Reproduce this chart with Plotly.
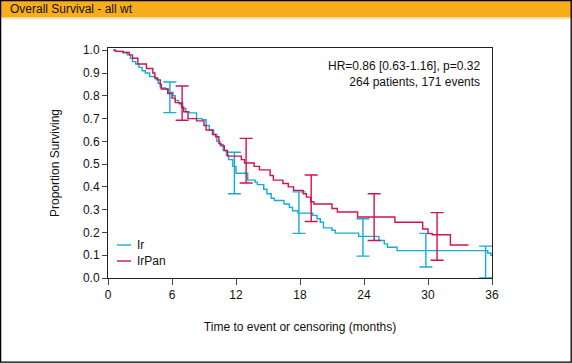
import plotly.graph_objects as go

# ---- data ----
ir_t = [0.5, 0.7, 1.4, 1.8, 2.1, 2.3, 2.6, 2.9, 3.2, 3.5, 3.9, 4.4, 4.7, 4.9, 5.4, 5.7, 6.1, 6.3,
        6.6, 7.0, 7.3, 7.6, 8.3, 8.8, 9.2, 9.5, 9.9, 10.2, 10.5, 10.8, 11.1, 11.3, 11.7, 12.0,
        13.1, 13.8, 14.0, 14.6, 14.9, 15.3, 15.6, 16.5, 17.0, 17.3, 17.8, 19.2, 19.6, 19.9,
        20.2, 21.0, 21.3, 23.5, 25.4, 25.9, 26.2, 27.1, 35.6, 35.9, 36.0]
ir_s = [1.0, 0.995, 0.99, 0.98, 0.965, 0.95, 0.94, 0.925, 0.91, 0.90, 0.885, 0.875, 0.855, 0.835,
        0.83, 0.815, 0.80, 0.78, 0.77, 0.745, 0.73, 0.725, 0.70, 0.695, 0.67, 0.65, 0.63, 0.60,
        0.585, 0.56, 0.54, 0.52, 0.49, 0.46, 0.43, 0.42, 0.41, 0.39, 0.37, 0.35, 0.34, 0.325,
        0.31, 0.295, 0.285, 0.275, 0.26, 0.245, 0.22, 0.21, 0.197, 0.183, 0.165, 0.15, 0.135,
        0.12, 0.11, 0.10, 0.10]

irpan_t = [0.5, 0.7, 1.4, 2.0, 2.3, 2.8, 3.6, 4.2, 4.4, 4.6, 4.9, 5.0, 5.6, 6.0, 6.3, 6.7, 6.9,
           7.1, 7.5, 8.3, 9.0, 9.2, 9.8, 10.1, 10.4, 10.6, 10.9, 11.2, 12.5, 12.8, 13.7, 14.2,
           15.2, 15.5, 16.4, 16.9, 17.4, 18.3, 18.6, 19.0, 19.3, 21.0, 21.5, 23.4, 26.9, 29.5,
           30.0, 30.4, 32.1, 33.8]
irpan_s = [1.0, 0.995, 0.99, 0.98, 0.965, 0.94, 0.92, 0.90, 0.88, 0.87, 0.85, 0.83, 0.81, 0.79,
           0.77, 0.765, 0.75, 0.73, 0.70, 0.69, 0.67, 0.65, 0.63, 0.62, 0.59, 0.58, 0.56, 0.535,
           0.52, 0.505, 0.49, 0.475, 0.45, 0.43, 0.415, 0.40, 0.385, 0.37, 0.355, 0.335, 0.325,
           0.305, 0.29, 0.268, 0.245, 0.215, 0.195, 0.19, 0.145, 0.145]

ir_ci_t = [5.8, 11.85, 17.9, 23.9, 29.8, 35.4]
ir_ci_lo = [0.726, 0.37, 0.196, 0.096, 0.048, 0.0]
ir_ci_hi = [0.861, 0.552, 0.378, 0.26, 0.196, 0.14]

irpan_ci_t = [6.95, 12.95, 19.05, 24.95, 30.85]
irpan_ci_lo = [0.693, 0.417, 0.248, 0.165, 0.078]
irpan_ci_hi = [0.843, 0.613, 0.452, 0.37, 0.287]

x_ticks = [0, 6, 12, 18, 24, 30, 36]
y_ticks = [0.0, 0.1, 0.2, 0.3, 0.4, 0.5, 0.6, 0.7, 0.8, 0.9, 1.0]

series_names = ["Ir", "IrPan"]
title_text = "Overall Survival - all wt"
stats_text = "HR=0.86 [0.63-1.16], p=0.32<br>264 patients, 171 events"

C_IR = "#17ACD6"
C_PAN = "#D3124F"
FONT = "Liberation Sans, Arial, sans-serif"

fig = go.Figure()

def add_series(t, s, ct, lo, hi, color, name):
    fig.add_trace(go.Scatter(x=t, y=s, mode="lines", line=dict(color=color, width=1.4, shape="hv"),
                             name=name, showlegend=False))
    mid = [(a + b) / 2 for a, b in zip(lo, hi)]
    half = [(b - a) / 2 for a, b in zip(lo, hi)]
    fig.add_trace(go.Scatter(x=ct, y=mid, mode="markers", marker=dict(size=0.1, color="rgba(0,0,0,0)"),
                             error_y=dict(type="data", array=half, arrayminus=half, symmetric=False,
                                          color=color, thickness=1.4, width=6.5),
                             showlegend=False, hoverinfo="skip"))

add_series(ir_t, ir_s, ir_ci_t, ir_ci_lo, ir_ci_hi, C_IR, series_names[0])
add_series(irpan_t, irpan_s, irpan_ci_t, irpan_ci_lo, irpan_ci_hi, C_PAN, series_names[1])

L, R, T, B = 108, 80, 48, 85
W, H = 572, 363
pw, ph = W - L - R, H - T - B

def px(xp):
    return (xp - L) / pw

def py(yp):
    return (H - B - yp) / ph

shapes = [
    # title bar
    dict(type="rect", xref="paper", yref="paper", x0=px(0), x1=px(W), y0=py(17.5), y1=py(0),
         fillcolor="#F8AE1B", line=dict(width=0), layer="below"),
    dict(type="line", xref="paper", yref="paper", x0=px(0), x1=px(W), y0=py(18.5), y1=py(18.5),
         line=dict(color="#FBE3B0", width=1)),
    # outer border
    dict(type="rect", xref="paper", yref="paper", x0=px(0.6), x1=px(W - 0.8), y0=py(H - 0.8), y1=py(0.6),
         line=dict(color="#000000", width=1.3)),
    # legend lines
    dict(type="line", xref="paper", yref="paper", x0=px(117), x1=px(131), y0=py(245), y1=py(245),
         line=dict(color=C_IR, width=1.4)),
    dict(type="line", xref="paper", yref="paper", x0=px(117), x1=px(131), y0=py(261), y1=py(261),
         line=dict(color=C_PAN, width=1.4)),
]

annotations = [
    dict(text=title_text, xref="paper", yref="paper", x=px(8), y=py(9), xanchor="left", yanchor="middle",
         showarrow=False, font=dict(family=FONT, size=12, color="#111")),
    dict(text=stats_text, xref="paper", yref="paper", x=px(482), y=py(74), xanchor="right", yanchor="middle",
         align="right", showarrow=False, font=dict(family=FONT, size=12, color="#111")),
    dict(text=series_names[0], xref="paper", yref="paper", x=px(135), y=py(245), xanchor="left",
         yanchor="middle", showarrow=False, font=dict(family=FONT, size=12, color="#111")),
    dict(text=series_names[1], xref="paper", yref="paper", x=px(135), y=py(261), xanchor="left",
         yanchor="middle", showarrow=False, font=dict(family=FONT, size=12, color="#111")),
]

fig.update_layout(
    width=W, height=H, margin=dict(l=L, r=R, t=T, b=B, pad=0),
    paper_bgcolor="white", plot_bgcolor="white",
    font=dict(family=FONT, size=12, color="#111"),
    showlegend=False, shapes=shapes, annotations=annotations,
    xaxis=dict(range=[0, 36], tickvals=x_ticks, ticktext=[str(v) for v in x_ticks],
               showgrid=False, zeroline=False, showline=True, mirror=True, linecolor="#222", linewidth=1,
               ticks="outside", ticklen=6, tickcolor="#444", tickwidth=1,
               title=dict(text="Time to event or censoring (months)", standoff=21,
                          font=dict(family=FONT, size=12))),
    yaxis=dict(range=[0, 1.01], tickvals=y_ticks, ticktext=[f"{v:.1f}" for v in y_ticks],
               showgrid=False, zeroline=False, showline=True, mirror=True, linecolor="#222", linewidth=1,
               ticks="outside", ticklen=5, tickcolor="#444", tickwidth=1,
               title=dict(text="Proportion Surviving", standoff=20, font=dict(family=FONT, size=12))),
)

fig.write_html("out.html", config={"displayModeBar": False},
               post_script="document.body.style.margin='0';document.body.style.padding='0';")
